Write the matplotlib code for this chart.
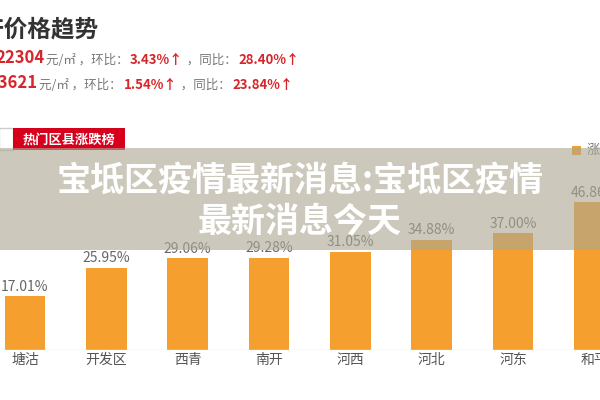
import matplotlib.pyplot as plt
from matplotlib.patches import Rectangle

plt.rcParams['font.family'] = ['Noto Sans CJK SC', 'DejaVu Sans']

# data
districts = ['塘沽', '开发区', '西青', '南开', '河西', '河北', '河东', '和平']
rises = [17.01, 25.95, 29.06, 29.28, 31.05, 34.88, 37.00, 46.86]

title = '产价格趋势'
line1 = [('22304', '#d7262b', 'bold', 12), ('元/㎡ ，环比：', '#777777', 'normal', 9),
         ('3.43%↑', '#d7262b', 'bold', 9.5), (' ，同比：', '#777777', 'normal', 9),
         ('28.40%↑', '#d7262b', 'bold', 9.5)]
line2 = [('13621', '#d7262b', 'bold', 12), ('元/㎡ ，环比：', '#777777', 'normal', 9),
         ('1.54%↑', '#d7262b', 'bold', 9.5), (' ，同比：', '#777777', 'normal', 9),
         ('23.84%↑', '#d7262b', 'bold', 9.5)]
overlay_title = '宝坻区疫情最新消息:宝坻区疫情\n最新消息今天'

W, H = 600, 400
fig = plt.figure(figsize=(6, 4), dpi=100)

def fx(px):
    return px / W

def fy(py):
    return 1 - py / H

# bar chart
ax = fig.add_axes([0, fy(350), 1, 157.5 / H])
x = range(len(districts))
ax.bar(x, rises, width=0.5, color='#f5a02e')
for i, v in enumerate(rises):
    ax.annotate(f'{v:.2f}%', (i, v), xytext=(0, 2), textcoords='offset points',
                ha='center', va='bottom', fontsize=10, color='#666666')
ax.axhline(0, color='#e6e6e6', lw=1)
ax.set_xlim(-0.307, 7.07)
ax.set_ylim(0, 50)
ax.set_xticks(list(x))
ax.set_xticklabels(districts, fontsize=10, color='#555555')
ax.tick_params(axis='x', length=0, pad=2)
ax.set_yticks([])
for s in ax.spines.values():
    s.set_visible(False)

# header
fig.text(fx(-20), fy(30), title, fontsize=17, fontweight='bold', color='#333333',
         va='center', ha='left')

#puts coloured pieces of one line next to each other
def chain_parts(parts, x0, y0):
    prev = fig.text(fx(x0), fy(y0), parts[0][0], color=parts[0][1],
                    fontweight=parts[0][2], fontsize=parts[0][3], va='baseline')
    for s, c, w, fs in parts[1:]:
        prev = ax.annotate(s, xy=(1, 0), xycoords=prev, xytext=(1, 0),
                           textcoords='offset points', color=c, fontweight=w,
                           fontsize=fs, va='bottom', ha='left', annotation_clip=False)

chain_parts(line1, -5, 63)
chain_parts(line2, -11, 88)

# tab box and red label
fig.patches.append(Rectangle((fx(-1), fy(150)), fx(14), 22 / H, transform=fig.transFigure,
                             facecolor='white', edgecolor='#cccccc', lw=1))
fig.patches.append(Rectangle((fx(13), fy(150)), fx(112), 22 / H, transform=fig.transFigure,
                             facecolor='#d6001c', edgecolor='none'))
fig.text(fx(69), fy(140), '热门区县涨跌榜', color='white', fontsize=9.5, ha='center',
         va='center', fontweight='bold')

# legend fragment
fig.patches.append(Rectangle((fx(572), fy(155)), fx(9), 9 / H, transform=fig.transFigure,
                             facecolor='#f5a02e', edgecolor='none'))
fig.text(fx(587), fy(150), '涨跌幅', color='#777777', fontsize=9.5, va='center')

# overlay band and headline
fig.patches.append(Rectangle((0, fy(250)), 1, 102 / H, transform=fig.transFigure,
                             facecolor=(173 / 255, 168 / 255, 148 / 255), alpha=0.62,
                             edgecolor='none', zorder=5))
fig.text(0.5, fy(201), overlay_title, color='white', fontsize=24.5, fontweight='bold',
         ha='center', va='center', linespacing=1.2, zorder=6)

fig.savefig('out.png', dpi=100)
